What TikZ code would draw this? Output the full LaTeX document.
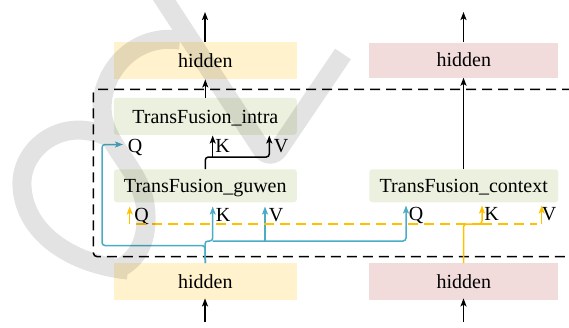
\documentclass[tikz,border=0pt]{standalone}
\usepackage{fontspec}
\setmainfont{Liberation Serif}
\usetikzlibrary{arrows.meta}
\definecolor{hidY}{RGB}{255,242,204}
\definecolor{hidP}{RGB}{242,220,219}
\definecolor{tfG}{RGB}{235,241,222}
\definecolor{lineB}{RGB}{75,172,198}
\definecolor{lineY}{RGB}{255,192,0}
\begin{document}
\begin{tikzpicture}[x=1pt,y=-1pt,
  every node/.style={font=\fontsize{20}{23}\selectfont, inner sep=0pt,
                     text height=13.6pt, text depth=0pt},
  hbox/.style={rectangle, minimum width=#1, minimum height=37pt},
  tfbox/.style={rectangle, rounded corners=3pt, fill=tfG, minimum width=#1},
  tip/.style={-{Stealth[length=8pt,width=6pt,inset=1.8pt]}},
  conn/.style={line width=1.5pt, rounded corners=3pt, tip},
  plain/.style={line width=1.5pt, tip},
  blueconn/.style={conn, draw=lineB},
  yelconn/.style={conn, draw=lineY},
  yeldash/.style={line width=1.5pt, draw=lineY, dash pattern=on 10pt off 6pt},
  frame/.style={line width=1.5pt, dash pattern=on 10pt off 6pt, rounded corners=4pt},
]
\useasboundingbox (0,0) rectangle (569,327);

% layer boxes
\node[hbox=183pt, fill=hidY] (hidT) at (205.3,60.7) {hidden};
\node[hbox=189pt, fill=hidP, minimum height=35pt] (hidTp) at (463.8,60) {hidden};
\node[tfbox=183pt, minimum height=37pt] (intra) at (205.3,116.3) {TransFusion\_intra};
\node[tfbox=183pt, minimum height=33pt] (guwen) at (205.3,185.8) {TransFusion\_guwen};
\node[tfbox=189pt, minimum height=33pt] (context) at (463.8,185.8) {TransFusion\_context};
\node[hbox=183pt, fill=hidY] (hidB) at (205.3,281.7) {hidden};
\node[hbox=189pt, fill=hidP] (hidBp) at (463.8,281.7) {hidden};

% Q / K / V labels
\node (iQ) at (135,146) {Q};
\node (iK) at (222.5,146) {K};
\node (iV) at (281,146) {V};
\node (gQ) at (141.7,215) {Q};
\node (gK) at (223,215) {K};
\node (gV) at (276,215) {V};
\node (cQ) at (416,213.3) {Q};
\node (cK) at (491.7,213.3) {K};
\node (cV) at (549,213.3) {V};

% free ends and junctions
\coordinate (outL) at (205,12);
\coordinate (outR) at (463.5,12);
\coordinate (inL) at (205,322);
\coordinate (inR) at (463.5,322);
\coordinate (iQt) at (123,144.5);
\coordinate (iKt) at (212.7,135.5);
\coordinate (iVt) at (269.3,135.5);
\coordinate (gQt) at (129.7,206.5);
\coordinate (gKt) at (212.7,206.5);
\coordinate (gVt) at (265,206.5);
\coordinate (cQt) at (406,205.5);
\coordinate (cKt) at (482,205.5);
\coordinate (cVt) at (541.7,205.5);

% dashed frame around the fusion block (open on the right)
\draw[frame] (572,89.3) -- (93.3,89.3) -- (93.3,256.7) -- (572,256.7);

% vertical data flow
\draw[plain] (hidT.north -| outL) -- (outL);
\draw[plain] (hidTp.north -| outR) -- (outR);
\draw[plain] (inL) -- ([yshift=2pt]hidB.south -| inL);
\draw[plain] (inR) -- ([yshift=2pt]hidBp.south -| inR);
\draw[plain] (intra.north) -- (hidT.south);
\draw[plain] (context.north -| outR) -- (hidTp.south -| outR);

% guwen output feeds K and V of intra
\draw[conn] (guwen.north) |- (iVt |- 0,157) -- (iVt);
\draw[conn] (iKt |- 0,157) -- (iKt);

% left hidden feeds Q of intra, K/V of guwen, Q of context
\draw[blueconn] (hidB.north) -- (205,245.5) -- (102,245.5) -- (102,144.5) -- (iQt);
\draw[blueconn] (hidB.north) -- (205,241) -- (gKt |- 0,241) -- (gKt);
\draw[blueconn] (gKt |- 0,241) -- (cQt |- 0,241) -- (cQt);
\draw[blueconn] (gVt |- 0,241) -- (gVt);

% right hidden feeds K/V of context and Q of guwen
\draw[yelconn] (hidBp.north -| inR) -- (463.5,224) -- (cKt |- 0,224) -- (cKt);
\draw[yeldash] (cKt |- 0,224) -- (135,224);
\draw[yeldash] (cKt |- 0,224) -- (537,224);
\draw[yelconn] (gQt |- 0,224) -- (gQt);
\draw[yelconn] (cVt |- 0,224) -- (cVt);

% faint grey overlay mark
\begin{scope}[transparency group, opacity=0.11]
  \draw[line width=19pt, rounded corners=16pt] (161,-5) -- (270,162) -- (343,54);
  \draw[line width=19pt] (180,40) .. controls (130,33) and (96,78) .. (103,118)
        .. controls (110,152) and (145,172) .. (146,215)
        .. controls (147,245) and (135,262) .. (115,270);
  \draw[line width=19pt] (106,136) .. controls (60,116) and (20,150) .. (22,186)
        .. controls (24,232) and (70,264) .. (128,270);
\end{scope}
\end{tikzpicture}
\end{document}
